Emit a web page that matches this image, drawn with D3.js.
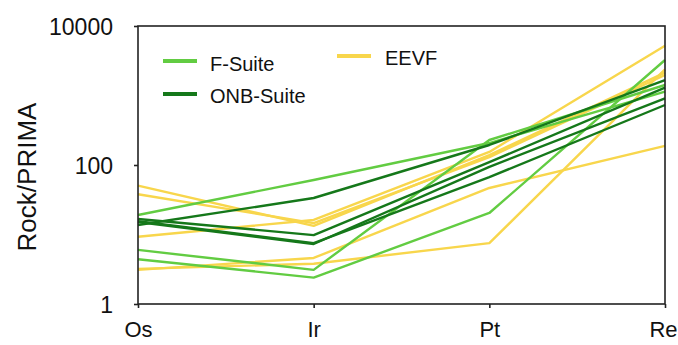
<!DOCTYPE html>
<html><head><meta charset="utf-8">
<script src="https://cdn.jsdelivr.net/npm/d3@7"></script>
<style>body{margin:0;background:#fff}text{font-family:"Liberation Sans",Arial,Helvetica,sans-serif;fill:#111}</style>
</head><body><svg id="c" width="678" height="345"></svg>
<script>
const elements = ["Os", "Ir", "Pt", "Re"];
const yTicks = [1, 100, 10000];
const seriesNames = ["F-Suite", "ONB-Suite", "EEVF"];
const fSuite = [
  [19.1, 60.8, 207, 1134],
  [6.0, 3.1, 229, 1416],
  [4.4, 2.4, 20.4, 3242]
];
const onbSuite = [
  [13.7, 33.5, 194, 1671],
  [16.7, 9.8, 110, 1300],
  [15.1, 7.3, 94, 911],
  [15.6, 7.5, 67, 730]
];
const eevf = [
  [50.4, 13.3, 139, 2129],
  [37.9, 14.6, 130, 1972],
  [9.3, 16.2, 154, 5206],
  [3.1, 4.6, 46.7, 188],
  [3.2, 3.8, 7.5, 2382]
];
const colors = {"F-Suite": "#62cc42", "ONB-Suite": "#15781a", "EEVF": "#f8d64c"};

const svg = d3.select("#c");
const L = 138, R = 665, T = 26, B = 304;
const x = d3.scalePoint().domain(elements).range([L, R]);
const y = d3.scaleLog().domain([1, 10000]).range([B, T]);

const line = d3.line().x((d, i) => x(elements[i])).y(d => y(d));

const groups = [["EEVF", eevf], ["F-Suite", fSuite], ["ONB-Suite", onbSuite]];
groups.forEach(([name, data]) => {
  svg.append("g").selectAll("path").data(data).join("path")
    .attr("d", line)
    .attr("fill", "none")
    .attr("stroke", colors[name])
    .attr("stroke-width", 2.4)
    .attr("stroke-linejoin", "round");
});

// frame
svg.append("rect").attr("x", L).attr("y", T).attr("width", R - L).attr("height", B - T)
  .attr("fill", "none").attr("stroke", "#222").attr("stroke-width", 1.6);

const yAxis = svg.append("g").attr("transform", `translate(${L},0)`)
  .call(d3.axisLeft(y).tickValues(yTicks).tickFormat(d3.format("d")).tickSize(4).tickPadding(21));
yAxis.select(".domain").remove();
yAxis.selectAll("line").attr("stroke", "#222").attr("stroke-width", 1.6);
yAxis.selectAll("text").attr("font-size", 23).attr("fill", "#111").attr("dy", "0.36em");

const xAxis = svg.append("g").attr("transform", `translate(0,${B})`)
  .call(d3.axisBottom(x).tickSize(4).tickPadding(13));
xAxis.select(".domain").remove();
xAxis.selectAll("line").attr("stroke", "#222").attr("stroke-width", 1.6);
xAxis.selectAll("text").attr("font-size", 22).attr("fill", "#111")
  .attr("dx", d => d === "Re" ? -2 : 0);

svg.append("text").attr("transform", "translate(36,177) rotate(-90)")
  .attr("text-anchor", "middle").attr("font-size", 26).text("Rock/PRIMA");

// legend
const leg = [
  {name: "F-Suite", x1: 163, x2: 197, ly: 61, tx: 210, ty: 71},
  {name: "ONB-Suite", x1: 163, x2: 197, ly: 94, tx: 210, ty: 103},
  {name: "EEVF", x1: 337, x2: 371, ly: 56, tx: 385, ty: 65}
];
leg.forEach(d => {
  svg.append("line").attr("x1", d.x1).attr("x2", d.x2).attr("y1", d.ly).attr("y2", d.ly)
    .attr("stroke", colors[d.name]).attr("stroke-width", 4);
  svg.append("text").attr("x", d.tx).attr("y", d.ty).attr("font-size", 20).text(d.name);
});
</script></body></html>
